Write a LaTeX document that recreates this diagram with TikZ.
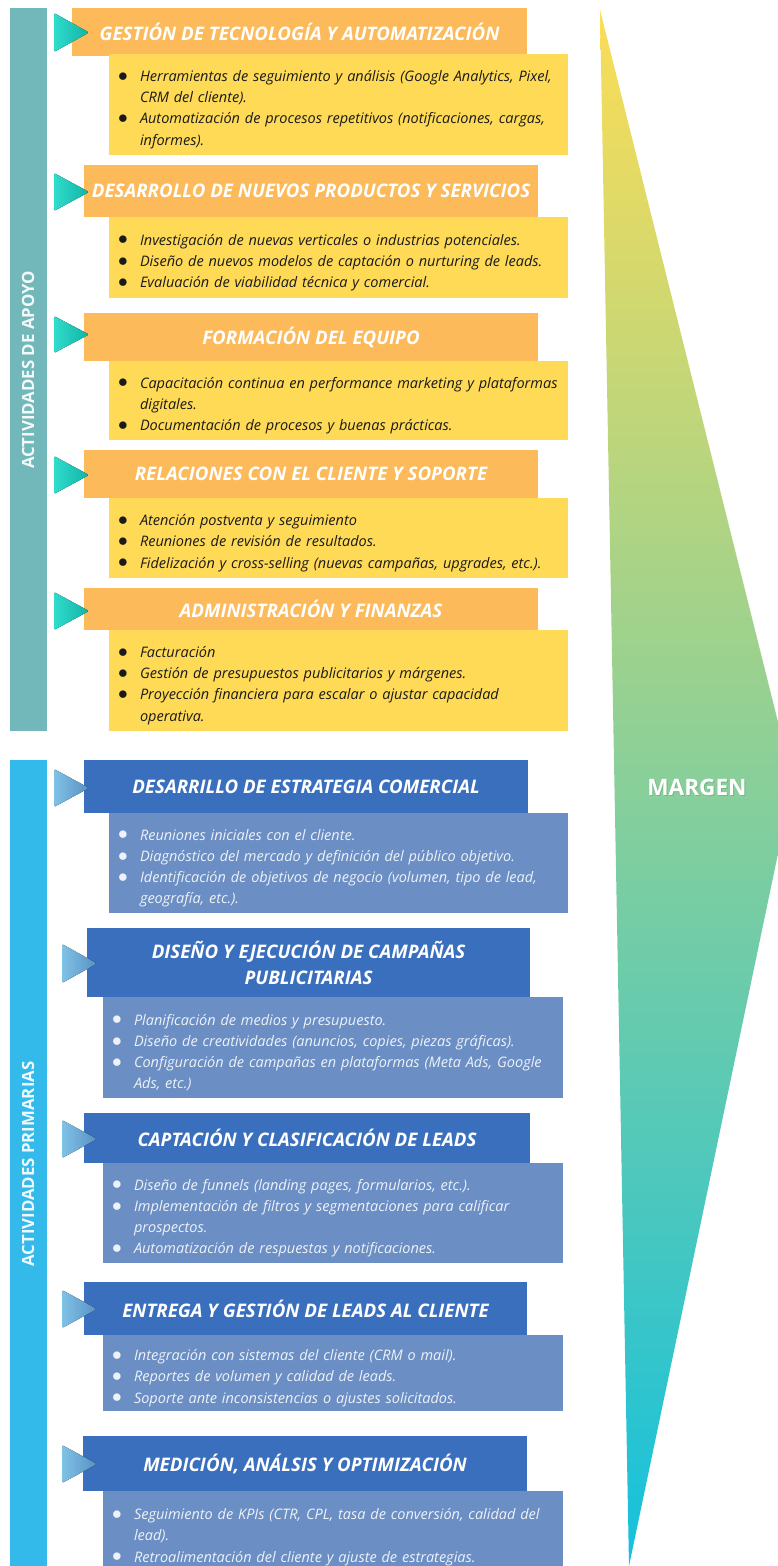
\documentclass[tikz,border=0pt]{standalone}
\usepackage{fontspec}
\setmainfont{Open Sans}

\definecolor{apoyoBar}{HTML}{72B8BB}
\definecolor{primBar}{HTML}{34B9EB}
\definecolor{orangeHdr}{HTML}{FDBA5A}
\definecolor{yellowBox}{HTML}{FEDA57}
\definecolor{blueHdr}{HTML}{3A6FBE}
\definecolor{blueBox}{HTML}{6B8FC4}
\definecolor{blueText}{HTML}{EEF2F8}
\definecolor{darkText}{HTML}{1A1A1A}
\definecolor{tealLight}{HTML}{30DCCB}
\definecolor{tealDark}{HTML}{10B3A5}
\definecolor{skyLight}{HTML}{80C2E6}
\definecolor{skyDark}{HTML}{5890C3}

% bullet item with hanging indent; \break keeps the indent on the next line
\newcommand\itm[1]{\par\hangindent=21pt\hangafter=1\noindent
  \makebox[21pt][l]{\hspace{-1pt}\raisebox{0.2pt}{\scalebox{1.35}{$\bullet$}}}#1\par}

% text panel given by its corners: style, name, x1, y1, x2, y2, content
\newcommand\panel[7]{%
  \pgfmathsetmacro\pw{#5-#3}\pgfmathsetmacro\ph{#6-#4}\pgfmathsetmacro\tw{#5-#3-20}%
  \node[#1, minimum width=\pw pt, minimum height=\ph pt, text width=\tw pt]
    (#2) at ({(#3+#5)/2},{(#4+#6)/2}) {#7};}

% title bar given by its corners: style, name, x1, y1, x2, y2, title
\newcommand\header[7]{%
  \pgfmathsetmacro\pw{#5-#3}\pgfmathsetmacro\ph{#6-#4}%
  \node[#1, minimum width=\pw pt, minimum height=\ph pt]
    (#2) at ({(#3+#5)/2},{(#4+#6)/2}) {#7};}

% pointer triangle: style, left x, top y, bottom y
\newcommand\pointer[4]{%
  \fill[#1, rounded corners=1.5pt] (#2,#3) -- ({#2+35},{(#3+#4)/2}) -- (#2,#4) -- cycle;}

\begin{document}
\begin{tikzpicture}[x=1pt,y=-1pt,
  hdrA/.style={fill=orangeHdr, text=white, align=center, inner sep=0pt,
    font=\fontsize{18.7}{26}\selectfont\bfseries\itshape},
  hdrP/.style={hdrA, fill=blueHdr},
  boxA/.style={fill=yellowBox, text=darkText, align=left, inner xsep=10pt, inner ysep=0pt,
    font=\fontsize{14.5}{21.2}\selectfont\itshape},
  boxP/.style={boxA, fill=blueBox, text=blueText},
  triA/.style={left color=tealLight, right color=tealDark},
  triP/.style={left color=skyLight, right color=skyDark},
  barlabel/.style={rotate=90, text=white, text opacity=0.92,
    font=\fontsize{16.8}{19}\selectfont\bfseries}
]
\useasboundingbox (0,0) rectangle (778,1566);

% margin arrow
\begin{scope}
\clip (0,0) rectangle (778,1566);
\shade[top color={rgb,255:red,252;green,221;blue,86}, middle color={rgb,255:red,138;green,207;blue,150},
  bottom color={rgb,255:red,20;green,193;blue,222}]
  (600,10) -- (793,782) -- (629,1566) -- cycle;
\end{scope}
\node[text=black, opacity=0.12, font=\fontsize{22.6}{26}\selectfont\bfseries] (margensh) at (698,788.5) {MARGEN};
\node[text=white, font=\fontsize{22.6}{26}\selectfont\bfseries] (margen) at (697,787) {MARGEN};

% side bars
\fill[apoyoBar] (10,8) rectangle (47,731);
\fill[primBar] (10,760) rectangle (47,1566);
\node[barlabel] (lapoyo) at (28,370) {ACTIVIDADES DE APOYO};
\node[barlabel] (lprim) at (28,1164) {ACTIVIDADES PRIMARIAS};

% support activities
\header{hdrA}{a1}{72}{8}{527}{56}{GESTIÓN DE TECNOLOGÍA Y AUTOMATIZACIÓN}
\panel{boxA}{a1c}{109}{54}{568}{155}{%
  \itm{Herramientas de seguimiento y análisis (Google Analytics, Pixel,\break CRM del cliente).}
  \itm{Automatización de procesos repetitivos (notificaciones, cargas,\break informes).}}
\pointer{triA}{54}{13}{52}

\header{hdrA}{a2}{84}{165}{538}{217}{DESARROLLO DE NUEVOS PRODUCTOS Y SERVICIOS}
\panel{boxA}{a2c}{109}{217}{568}{298}{%
  \itm{Investigación de nuevas verticales o industrias potenciales.}
  \itm{Diseño de nuevos modelos de captación o nurturing de leads.}
  \itm{Evaluación de viabilidad técnica y comercial.}}
\pointer{triA}{54}{173}{211}

\header{hdrA}{a3}{84}{313}{538}{361}{FORMACIÓN DEL EQUIPO}
\panel{boxA}{a3c}{109}{361}{568}{440}{%
  \itm{Capacitación continua en performance marketing y plataformas\break digitales.}
  \itm{Documentación de procesos y buenas prácticas.}}
\pointer{triA}{54}{316}{353}

\header{hdrA}{a4}{84}{450}{538}{498}{RELACIONES CON EL CLIENTE Y SOPORTE}
\panel{boxA}{a4c}{109}{498}{568}{578}{%
  \itm{Atención postventa y seguimiento}
  \itm{Reuniones de revisión de resultados.}
  \itm{Fidelización y cross-selling (nuevas campañas, upgrades, etc.).}}
\pointer{triA}{54}{456}{494}

\header{hdrA}{a5}{84}{588}{538}{630}{ADMINISTRACIÓN Y FINANZAS}
\panel{boxA}{a5c}{109}{630}{568}{731}{%
  \itm{Facturación}
  \itm{Gestión de presupuestos publicitarios y márgenes.}
  \itm{Proyección financiera para escalar o ajustar capacidad\break operativa.}}
\pointer{triA}{54}{592}{630}

% primary activities
\header{hdrP}{p1}{84}{760}{528}{813}{DESARRILLO DE ESTRATEGIA COMERCIAL}
\panel{boxP}{p1c}{109}{813}{568}{913}{%
  \itm{Reuniones iniciales con el cliente.}
  \itm{Diagnóstico del mercado y definición del público objetivo.}
  \itm{Identificación de objetivos de negocio (volumen, tipo de lead,\break geografía, etc.).}}
\pointer{triP}{54}{769}{807}

\header{hdrP}{p2}{87}{928}{530}{997}{DISEÑO Y EJECUCIÓN DE CAMPAÑAS\\PUBLICITARIAS}
\panel{boxP}{p2c}{103}{997}{563}{1098}{%
  \itm{Planificación de medios y presupuesto.}
  \itm{Diseño de creatividades (anuncios, copies, piezas gráficas).}
  \itm{Configuración de campañas en plataformas (Meta Ads, Google\break Ads, etc.)}}
\pointer{triP}{62}{944}{983}

\header{hdrP}{p3}{84}{1113}{530}{1163}{CAPTACIÓN Y CLASIFICACIÓN DE LEADS}
\panel{boxP}{p3c}{103}{1163}{563}{1263}{%
  \itm{Diseño de funnels (landing pages, formularios, etc.).}
  \itm{Implementación de filtros y segmentaciones para calificar\break prospectos.}
  \itm{Automatización de respuestas y notificaciones.}}
\pointer{triP}{62}{1120}{1158}

\header{hdrP}{p4}{84}{1282}{527}{1335}{ENTREGA Y GESTIÓN DE LEADS AL CLIENTE}
\panel{boxP}{p4c}{103}{1335}{563}{1411}{%
  \itm{Integración con sistemas del cliente (CRM o mail).}
  \itm{Reportes de volumen y calidad de leads.}
  \itm{Soporte ante inconsistencias o ajustes solicitados.}}
\pointer{triP}{62}{1290}{1328}

\header{hdrP}{p5}{83}{1436}{527}{1491}{MEDICIÓN, ANÁLSIS Y OPTIMIZACIÓN}
\begin{scope}
\clip (0,0) rectangle (778,1566);
\panel{boxP}{p5c}{103}{1491}{563}{1573}{%
  \itm{Seguimiento de KPIs (CTR, CPL, tasa de conversión, calidad del\break lead).}
  \itm{Retroalimentación del cliente y ajuste de estrategias.}}
\end{scope}
\pointer{triP}{62}{1445}{1483}
\end{tikzpicture}
\end{document}
